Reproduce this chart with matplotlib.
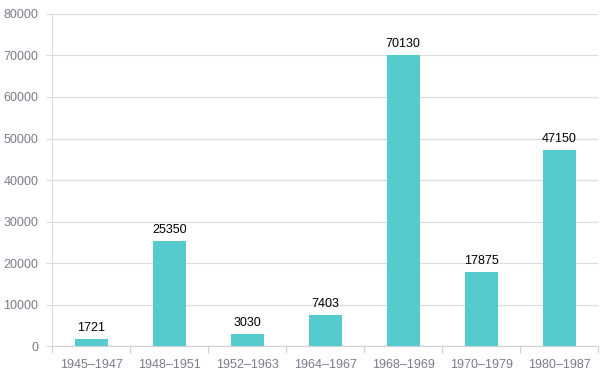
import matplotlib.pyplot as plt
import numpy as np

periods = ['1945–1947', '1948–1951', '1952–1963', '1964–1967',
           '1968–1969', '1970–1979', '1980–1987']
values = [1721, 25350, 3030, 7403, 70130, 17875, 47150]
yticks = [0, 10000, 20000, 30000, 40000, 50000, 60000, 70000, 80000]

plt.rcParams['font.family'] = ['Liberation Sans', 'DejaVu Sans']

fig = plt.figure(figsize=(6, 3.77), dpi=100)
ax = fig.add_axes([0.087, 0.082, 0.91, 0.881])

x = np.arange(len(periods))
bars = ax.bar(x, values, width=0.42, color='#55cbcd', zorder=3)
for xi, v in zip(x, values):
    ax.text(xi, v + 1200, str(v), ha='center', va='bottom', fontsize=9, color='#000000')

ax.set_xlim(-0.5, len(periods) - 0.5)
ax.set_ylim(0, 80000)
ax.set_yticks(yticks)
ax.set_yticklabels([str(t) for t in yticks])
ax.grid(axis='y', color='#dcdcdc', linewidth=0.9, zorder=0)

ax.set_xticks(x)
ax.set_xticklabels(periods)
ax.set_xticks(np.arange(-0.5, len(periods)), minor=True)
ax.tick_params(axis='x', which='major', length=0, pad=9, labelsize=9, labelcolor='#7d7a8c')
ax.tick_params(axis='x', which='minor', length=5, color='#d0d0d0', width=0.9)
ax.tick_params(axis='y', length=4, color='#dcdcdc', pad=6, labelsize=9, labelcolor='#7d7a8c')

for s in ['top', 'right']:
    ax.spines[s].set_visible(False)
ax.spines['left'].set_color('#dcdcdc')
ax.spines['bottom'].set_color('#d0d0d0')

fig.savefig('out.png', dpi=100)
